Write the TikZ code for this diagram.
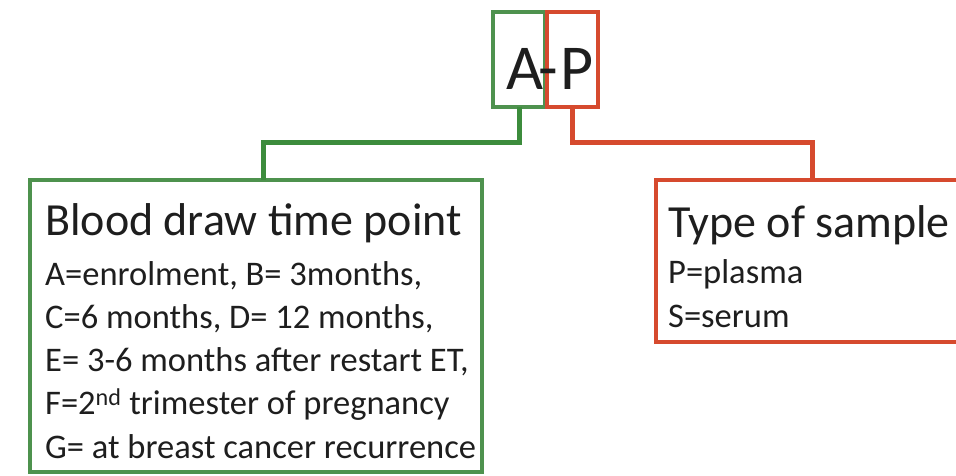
\documentclass[tikz,border=0pt]{standalone}
\usepackage{fontspec}
\setmainfont{Carlito}
\definecolor{grn}{RGB}{78,146,78}
\definecolor{grnline}{RGB}{60,140,60}
\definecolor{rd}{RGB}{214,74,46}
\definecolor{txt}{RGB}{30,30,30}
\begin{document}
\begin{tikzpicture}[x=1pt,y=-1pt,
  gframe/.style={draw=grn, line width=4.5pt, inner sep=0pt, outer sep=0pt},
  rframe/.style={draw=rd, line width=4.5pt, inner sep=0pt, outer sep=0pt},
  gline/.style={draw=grnline, line width=5pt},
  rline/.style={draw=rd, line width=5pt},
  hd/.style={font=\fontsize{46}{50}\selectfont, text=txt, anchor=base west, inner sep=0pt},
  bd/.style={font=\fontsize{34.5}{40}\selectfont, text=txt, anchor=base west, inner sep=0pt},
  big/.style={font=\fontsize{64}{70}\selectfont, text=txt, anchor=base, inner sep=0pt}]
\useasboundingbox (0,0) rectangle (956,476);
% top code boxes
\node[gframe, minimum width=52pt, minimum height=95pt] (abox) at (519,59.5) {};
\node[rframe, minimum width=51pt, minimum height=95pt] (pbox) at (572.5,59.5) {};
\node[big] (ta) at (525,90) {A};
\node[big] (hy) at (548,90) {-};
\node[big] (tp) at (577,90) {P};
% big boxes
\node[gframe, anchor=north west, minimum width=452pt, minimum height=292pt] (gbox) at (30,180) {};
\node[rframe, anchor=north west, minimum width=330pt, minimum height=162pt] (rbox) at (656,180) {};
% connectors
\coordinate (gj) at (263,143);
\coordinate (rj) at (812,143);
\draw[gline] (abox.south) |- (gj) -- (gj |- gbox.north);
\draw[rline] (pbox.south) |- (rj) -- (rj |- rbox.north);
% green text
\node[hd] (gh) at (45,235) {Blood draw time point};
\node[bd] (g1) at (45,285) {A=enrolment, B= 3months,};
\node[bd] (g2) at (45,328.25) {C=6 months, D= 12 months,};
\node[bd] (g3) at (45,371.5) {E= 3-6 months after restart ET,};
\node[bd] (g4) at (45,414.75) {F=2\textsuperscript{nd} trimester of pregnancy};
\node[bd] (g5) at (45,458) {G= at breast cancer recurrence};
% red text
\node[hd] (rh) at (668,237) {Type of sample};
\node[bd] (r1) at (668,283) {P=plasma};
\node[bd] (r2) at (668,327) {S=serum};
\end{tikzpicture}
\end{document}
